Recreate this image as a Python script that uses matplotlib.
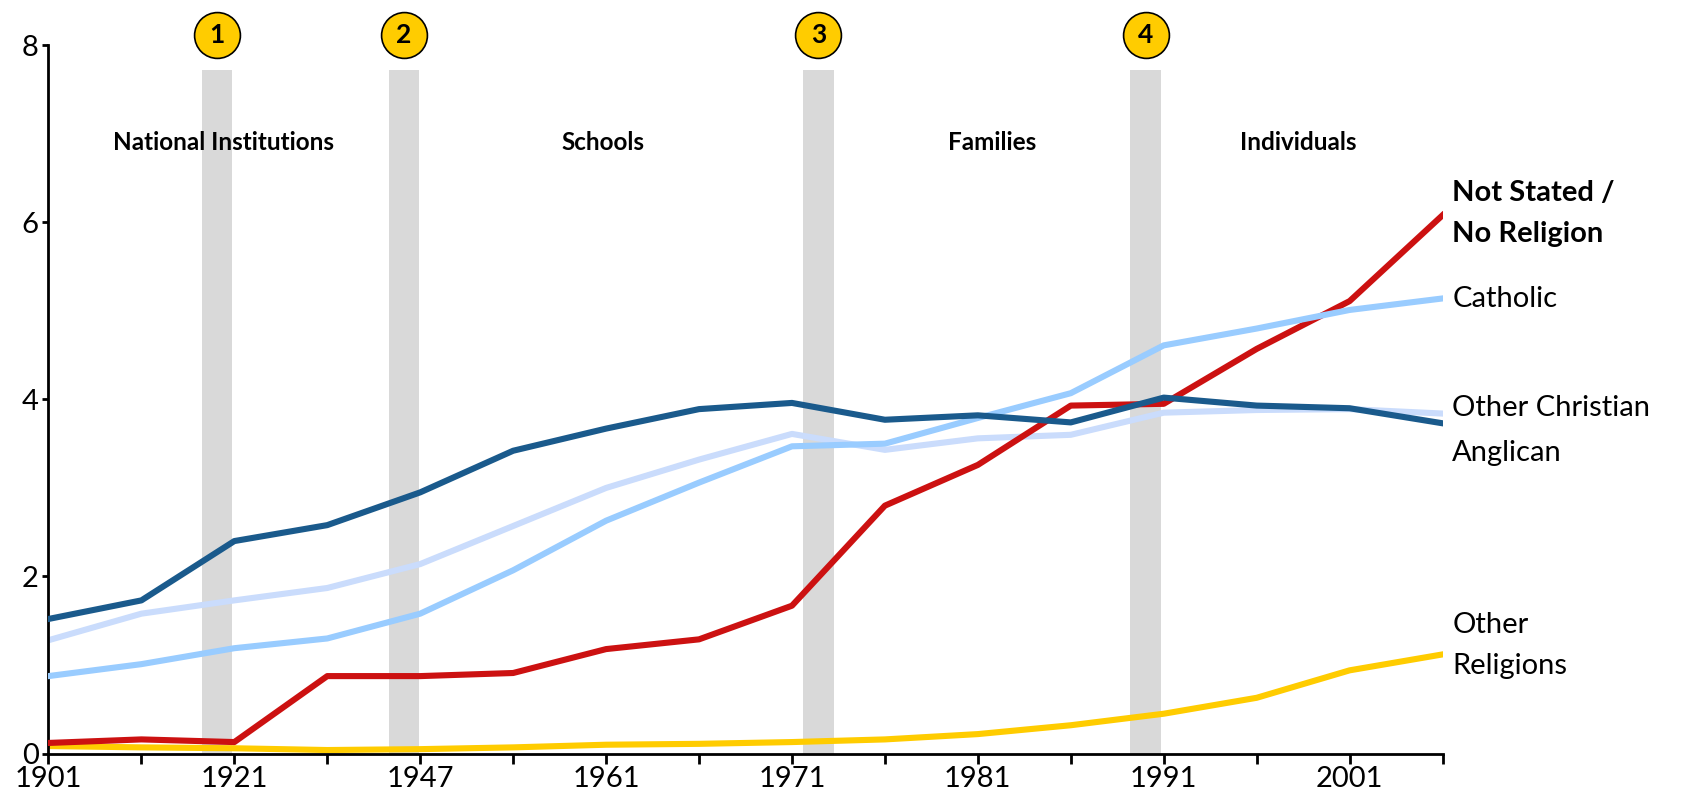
import matplotlib.pyplot as plt
from matplotlib import font_manager

# census years (categorical, equal spacing)
years = [1901, 1911, 1921, 1933, 1947, 1954, 1961, 1966, 1971, 1976,
         1981, 1986, 1991, 1996, 2001, 2006]
shown_years = [1901, 1921, 1947, 1961, 1971, 1981, 1991, 2001]

anglican = [1.52, 1.73, 2.40, 2.58, 2.95, 3.42, 3.67, 3.89, 3.96, 3.77,
            3.82, 3.74, 4.02, 3.93, 3.90, 3.73]
other_christian = [1.28, 1.58, 1.73, 1.87, 2.14, 2.57, 3.00, 3.32, 3.61, 3.43,
                   3.56, 3.60, 3.85, 3.88, 3.89, 3.84]
catholic = [0.875, 1.01, 1.19, 1.30, 1.58, 2.07, 2.63, 3.06, 3.47, 3.50,
            3.79, 4.07, 4.61, 4.80, 5.01, 5.14]
not_stated = [0.12, 0.16, 0.13, 0.875, 0.875, 0.91, 1.18, 1.29, 1.67, 2.80,
              3.26, 3.93, 3.95, 4.57, 5.11, 6.08]
other_religions = [0.085, 0.07, 0.06, 0.04, 0.05, 0.07, 0.10, 0.11, 0.13, 0.16,
                   0.22, 0.32, 0.45, 0.63, 0.94, 1.12]

# shaded transitions (position in category units) and their numbers
band_starts = [1.65, 3.66, 8.12, 11.64]
band_numbers = ['1', '2', '3', '4']
eras = ['National Institutions', 'Schools', 'Families', 'Individuals']
era_pos = [1.88, 5.97, 10.15, 13.45]

names = {f.name for f in font_manager.fontManager.ttflist}
plt.rcParams['font.family'] = ['Lato' if 'Lato' in names else 'DejaVu Sans']


def main():
    x = list(range(len(years)))
    fig = plt.figure(figsize=(16.88, 8.07), dpi=100)
    ax = fig.add_axes([0.0287, 0.0662, 0.8259, 0.8778])

    # grey bands with numbered circles on top
    for start, num in zip(band_starts, band_numbers):
        ax.fill_between([start, start + 0.33], 0, 7.72, color='#d9d9d9',
                        lw=0, zorder=1)
        ax.plot(start + 0.165, 8.12, 'o', ms=33, mfc='#ffcc00', mec='black',
                mew=1.2, clip_on=False, zorder=5)
        ax.text(start + 0.165, 8.12, num, ha='center', va='center',
                fontsize=19, fontweight='bold', zorder=6)

    for label, pos in zip(eras, era_pos):
        ax.text(pos, 6.9, label, ha='center', va='center', fontsize=17.5,
                fontweight='bold', zorder=4)

    lw = 4.4
    ax.plot(x, other_religions, color='#ffcc00', lw=lw, zorder=2)
    ax.plot(x, other_christian, color='#cadcfc', lw=lw, zorder=2)
    ax.plot(x, not_stated, color='#cc1111', lw=lw, zorder=3)
    ax.plot(x, catholic, color='#99ccff', lw=lw, zorder=3)
    ax.plot(x, anglican, color='#1a5a8c', lw=lw, zorder=3)

    # right-hand series labels
    end = x[-1]
    lab = dict(xycoords='data', textcoords='offset points', xytext=(7, 0),
               ha='left', va='center', fontsize=21, annotation_clip=False)
    ax.annotate('Not Stated /\nNo Religion', (end, 6.1), fontweight='bold',
                linespacing=1.75, **lab)
    ax.annotate('Catholic', (end, 5.13), **lab)
    ax.annotate('Other Christian', (end, 3.9), **lab)
    ax.annotate('Anglican', (end, 3.4), **lab)
    ax.annotate('Other\nReligions', (end, 1.22), linespacing=1.75, **lab)

    ax.set_xlim(0, end)
    ax.set_ylim(0, 8)
    ax.set_xticks(x)
    ax.set_xticklabels([str(y) if y in shown_years else '' for y in years])
    ax.set_yticks([0, 2, 4, 6, 8])
    ax.tick_params(axis='x', length=7, width=2, labelsize=21, pad=2)
    ax.tick_params(axis='y', length=4, width=2, labelsize=21, pad=3)
    for side in ['top', 'right']:
        ax.spines[side].set_visible(False)
    for side in ['left', 'bottom']:
        ax.spines[side].set_linewidth(2)

    fig.savefig('out.png', dpi=100)


if __name__ == '__main__':
    main()
